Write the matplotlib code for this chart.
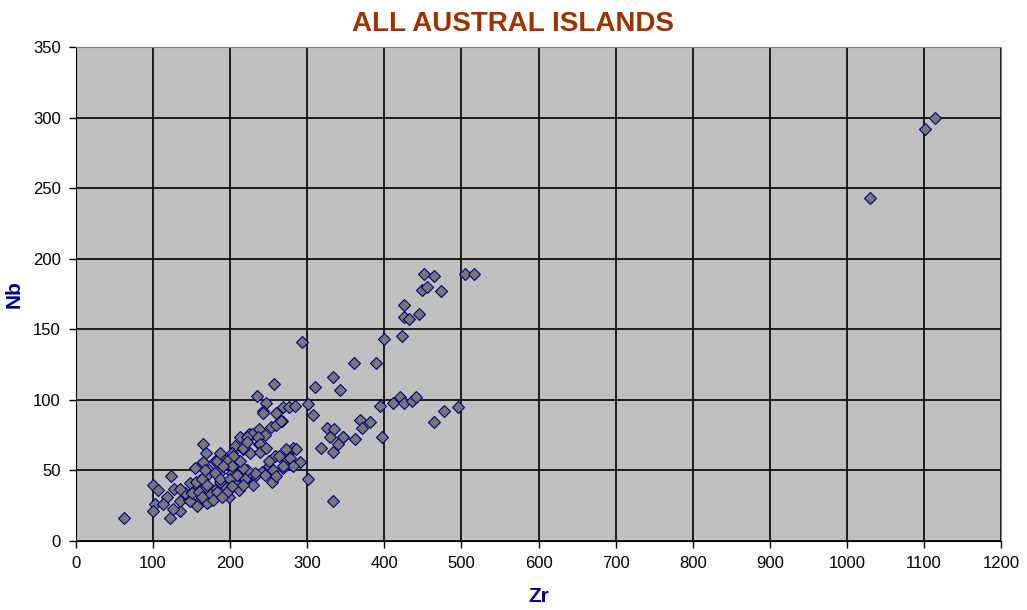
import matplotlib.pyplot as plt

# Zr / Nb values
zr = [
    62, 1030, 1102, 1115,
    451, 465, 505, 516, 449, 455, 474,
    426, 426, 432, 445, 400, 423, 293, 361, 389,
    334, 310, 343, 257, 235, 247, 243, 260, 269, 276, 284, 301, 307,
    394, 411, 420, 426, 436, 441, 495, 477, 465,
    397, 369, 382, 371, 325, 335, 347, 362, 330, 346, 340, 334, 318,
    301, 333,
    267, 253, 260, 266, 243, 237, 245, 224, 213, 237, 228, 236, 222,
    239, 226, 239, 206, 217, 202, 189, 180, 211, 247, 258, 271, 282, 280,
    269, 250, 241, 232, 258, 219, 206, 193, 180, 167, 198, 172, 185, 172,
    161, 224, 211, 202, 187, 254, 286, 278, 263, 250, 291, 282, 269, 256,
    245, 232, 222, 219, 230, 217, 260, 273,
    165, 169, 154, 123, 100, 107, 127, 118, 103, 113, 100, 122, 135, 126,
    135, 146, 157, 170, 141, 150, 161, 174, 183, 196, 148, 161, 170, 180,
    187, 200, 209, 217, 213, 204, 217, 222, 183, 196, 187, 202, 191, 202,
    178, 189, 165, 135, 148, 157, 150, 159, 156, 163, 165, 170, 167, 163,
]
nb = [
    16, 243, 292, 300,
    189, 188, 189, 189, 178, 180, 177,
    167, 159, 157, 161, 143, 145, 141, 126, 126,
    116, 109, 107, 111, 103, 98, 92, 91, 95, 95, 96, 97, 89,
    96, 98, 102, 98, 99, 102, 95, 92, 84,
    74, 86, 84, 80, 80, 79, 74, 72, 74, 74, 69, 63, 66,
    44, 28,
    85, 81, 82, 85, 91, 79, 75, 76, 74, 69, 76, 74, 74,
    69, 62, 63, 67, 65, 62, 59, 57, 57, 66, 60, 59, 66, 54,
    52, 53, 49, 46, 46, 43, 41, 39, 36, 34, 31, 28, 48, 50,
    54, 48, 36, 48, 42, 42, 65, 59, 60, 57, 56, 53, 53, 50,
    47, 48, 50, 44, 40, 40, 46, 65,
    69, 62, 52, 46, 40, 36, 37, 31, 26, 26, 21, 16, 21, 23,
    28, 29, 27, 27, 34, 35, 34, 33, 35, 35, 41, 43, 47, 48,
    44, 44, 47, 52, 57, 60, 66, 70, 57, 57, 62, 53, 53, 39,
    29, 31, 36, 37, 28, 25, 34, 35, 42, 44, 56, 40, 50, 31,
]

x_ticks = list(range(0, 1201, 100))
y_ticks = list(range(0, 351, 50))

fig = plt.figure(figsize=(10.27, 6.10), dpi=100)
ax = fig.add_axes([76 / 1027, 1 - 541 / 610, 925 / 1027, 494 / 610])
ax.set_facecolor("#C0C0C0")

ax.plot(zr, nb, linestyle="none", marker="D", markersize=6.3,
        markerfacecolor="#777777", markeredgecolor="#000080",
        markeredgewidth=0.8, zorder=3)

ax.set_xlim(0, 1200)
ax.set_ylim(0, 350)
ax.set_xticks(x_ticks)
ax.set_yticks(y_ticks)
ax.grid(True, color="black", linewidth=1.2, zorder=1)
ax.set_axisbelow(True)

for side in ["top", "right"]:
    ax.spines[side].set_color("#808080")
for side in ["left", "bottom"]:
    ax.spines[side].set_color("black")

ax.tick_params(direction="out", length=5, width=1, colors="black",
               labelsize=12, pad=6)
for lbl in ax.get_xticklabels() + ax.get_yticklabels():
    lbl.set_family("Liberation Sans")

ax.set_xlabel("Zr", fontsize=15, fontweight="bold", color="#000080",
              family="Liberation Sans")
ax.set_ylabel("Nb", fontsize=15, fontweight="bold", color="#000080",
              family="Liberation Sans")
ax.xaxis.set_label_coords(0.5, -0.093)
ax.yaxis.set_label_coords(-0.057, 0.5)
fig.suptitle("ALL AUSTRAL ISLANDS", fontsize=20, fontweight="bold",
             color="#993300", family="Liberation Sans", y=0.982)

fig.savefig("out.png", dpi=100)
